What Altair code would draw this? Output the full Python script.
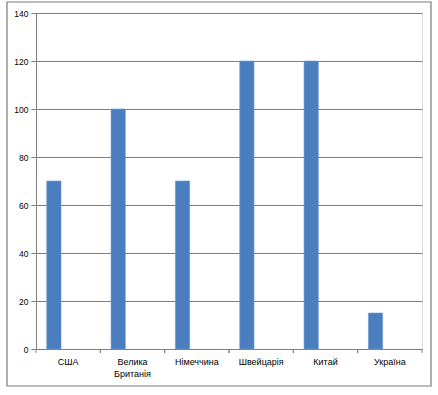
import altair as alt
import pandas as pd

countries = ["США", "Велика Британія", "Німеччина", "Швейцарія", "Китай", "Україна"]
values = [70, 100, 70, 120, 120, 15]
series_names = ["Ряд1", "Ряд2", "Ряд3"]
y_ticks = [0, 20, 40, 60, 80, 100, 120, 140]

df = pd.DataFrame({"country": countries, "value": values, "series": series_names[0]})

FONT = "Liberation Sans"
GRAY = "#808080"

x_scale = alt.Scale(domain=countries, paddingInner=0, paddingOuter=0)

bars = alt.Chart(df).mark_bar(color="#4A7EBF", stroke="#6f9ad0", strokeWidth=0.6).encode(
    x=alt.X("country:N", scale=x_scale, sort=countries,
            axis=alt.Axis(title=None, labelAngle=0, ticks=False, domainColor=GRAY,
                          labelFont=FONT, labelFontSize=9, labelColor="#000000",
                          labelPadding=8, labelLineHeight=12,
                          labelExpr="split(datum.value, ' ')")),
    xOffset=alt.XOffset("series:N", scale=alt.Scale(domain=series_names, paddingInner=0, paddingOuter=0.75)),
    y=alt.Y("value:Q", scale=alt.Scale(domain=[0, 140], nice=False),
            axis=alt.Axis(title=None, values=y_ticks, grid=True, gridColor=GRAY, gridWidth=1,
                          tickSize=5, tickColor=GRAY, domainColor=GRAY,
                          labelFont=FONT, labelFontSize=8.5, labelColor="#000000", labelPadding=3)),
)

tick_df = pd.DataFrame({"country": countries})
ticks0 = alt.Chart(tick_df).mark_rule(color=GRAY, strokeWidth=1).encode(
    x=alt.X("country:N", scale=x_scale, sort=countries, bandPosition=0),
    y=alt.value(336), y2=alt.value(340))
ticks1 = alt.Chart(tick_df).mark_rule(color=GRAY, strokeWidth=1).encode(
    x=alt.X("country:N", scale=x_scale, sort=countries, bandPosition=1),
    y=alt.value(336), y2=alt.value(340))

border = alt.Chart(pd.DataFrame({"a": [0]})).mark_rect(fill=None, stroke="#7a7a7a", strokeWidth=1.2).encode(
    x=alt.value(-29), x2=alt.value(395), y=alt.value(-11), y2=alt.value(373))

chart = alt.layer(bars, ticks0, ticks1, border).properties(
    width=386, height=336,
    autosize=alt.AutoSizeParams(type="none"),
    padding={"left": 36, "top": 13, "right": 16, "bottom": 46},
).configure_view(stroke=None).configure(background="white")

chart.save("out.html", embed_options={"renderer": "svg", "actions": False})
